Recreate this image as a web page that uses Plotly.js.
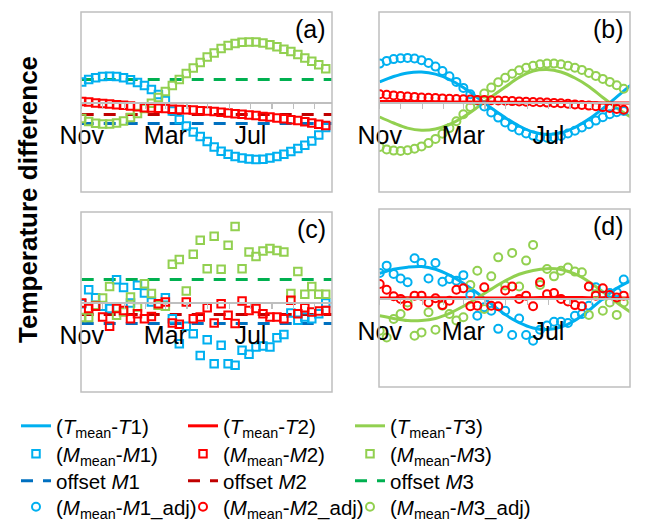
<!DOCTYPE html>
<html><head><meta charset="utf-8">
<script src="https://cdn.plot.ly/plotly-3.0.1.min.js"></script>
<style>html,body{margin:0;padding:0;background:#fff}#chart{width:649px;height:522px}</style>
</head><body><div id="chart"></div>
<script>
// x positions: day of season (from 1 Nov), one point per 10-day period
const days = [0,10,20,30,40,50,60,70,80,90,100,110,120,130,140,150,160,170,180,190,200,210,220,230,240,250,260,270,280,290,300,310,320,330,340,350];
const lineDays = [0,20,40,60,80,100,120,140,160,180,200,220,240,260,280,300,320,340,360];
const tickDays = [0,120,242];
const tickLabels = ['Nov','Mar','Jul'];
const monthDays = [30,61,92,151,181,212,273,304,334];

// panel (a): M_mean - Mi
const a_M1 = [0.67,0.75,0.81,0.85,0.86,0.85,0.81,0.74,0.65,0.55,0.42,0.25,0.05,-0.30,-0.58,-0.80,-1.00,-1.15,-1.32,-1.50,-1.64,-1.74,-1.82,-1.87,-1.90,-1.92,-1.91,-1.87,-1.82,-1.74,-1.65,-1.55,-1.44,-1.30,-1.10,-0.85];
const a_M2 = [0.02,0.00,-0.03,-0.05,-0.07,-0.09,-0.11,-0.13,-0.16,-0.19,-0.20,-0.21,-0.22,-0.24,-0.25,-0.26,-0.27,-0.29,-0.30,-0.32,-0.34,-0.37,-0.39,-0.41,-0.43,-0.45,-0.48,-0.50,-0.53,-0.56,-0.59,-0.62,-0.66,-0.70,-0.74,-0.78];
const a_M3 = [-0.55,-0.65,-0.71,-0.73,-0.73,-0.70,-0.63,-0.52,-0.38,-0.22,-0.04,0.15,0.35,0.55,0.75,0.95,1.13,1.32,1.50,1.63,1.78,1.88,1.95,1.99,2.00,2.00,1.97,1.91,1.84,1.76,1.68,1.58,1.47,1.36,1.24,1.11];
// offsets
const offM1 = -0.72, offM2 = -0.42, offM3 = 0.75;

// panel (b): T_mean - Ti and M_mean - Mi_adj
const b_T1 = [0.67,0.85,0.97,1.00,0.93,0.75,0.48,0.15,-0.20,-0.52,-0.80,-1.00,-1.08,-1.03,-0.85,-0.57,-0.22,0.17,0.56];
const b_T2 = [0.02,0.02,0.01,0.01,0.01,0.00,0.00,0.00,0.00,-0.01,-0.01,-0.01,-0.01,-0.02,-0.02,-0.02,-0.03,-0.03,-0.03];
const b_T3 = [-0.50,-0.70,-0.87,-0.94,-0.90,-0.75,-0.50,-0.18,0.17,0.50,0.82,1.03,1.08,1.00,0.80,0.52,0.15,-0.20,-0.50];
const b_M1adj = [1.28,1.37,1.43,1.46,1.47,1.45,1.39,1.30,1.18,1.03,0.86,0.67,0.47,0.26,0.05,-0.15,-0.35,-0.52,-0.68,-0.83,-0.95,-1.05,-1.12,-1.17,-1.19,-1.18,-1.13,-1.05,-0.96,-0.85,-0.74,-0.62,-0.51,-0.41,-0.34,-0.30];
const b_M2adj = [0.26,0.24,0.22,0.20,0.18,0.17,0.15,0.14,0.13,0.12,0.11,0.10,0.09,0.08,0.07,0.07,0.06,0.05,0.04,0.03,0.02,0.01,0.00,-0.01,-0.02,-0.03,-0.04,-0.06,-0.08,-0.10,-0.12,-0.14,-0.17,-0.20,-0.23,-0.26];
const b_M3adj = [-1.50,-1.58,-1.62,-1.63,-1.61,-1.56,-1.48,-1.37,-1.23,-1.06,-0.87,-0.64,-0.41,-0.17,0.06,0.28,0.48,0.66,0.81,0.94,1.06,1.14,1.21,1.26,1.28,1.28,1.26,1.21,1.14,1.07,0.97,0.87,0.77,0.67,0.56,0.44];

// panel (c)
const c_M1 = [-0.06,0.41,0.14,-0.14,-0.22,0.74,0.48,-0.03,0.56,0.30,0.00,-0.11,0.14,-0.56,-1.39,-0.81,-1.06,-1.78,-1.26,-2.06,-1.44,-2.06,-2.11,-1.61,-1.74,-1.50,-1.47,-1.50,-1.19,-1.08,-0.37,-0.61,-0.50,-0.56,-0.39,-0.03];
const c_M2 = [-0.03,-0.22,-0.14,-0.50,-0.81,-0.22,-0.28,-0.56,-0.39,-0.56,-0.48,-0.06,0.00,-0.70,-0.74,0.00,-0.56,-0.50,-0.19,-0.70,-0.06,-0.44,-0.72,0.03,-0.28,-0.22,-0.39,-0.50,-0.50,-0.56,0.06,-0.39,-0.19,-0.33,-0.30,-0.28];
const c_M3 = [-0.52,-0.52,-0.11,0.13,0.52,-0.44,-0.33,0.17,-0.17,0.61,0.28,-0.11,-0.14,1.26,1.42,0.37,1.59,2.06,1.11,2.19,1.09,1.89,2.52,1.11,1.67,1.52,1.70,1.78,1.72,1.67,0.28,1.02,0.26,0.52,0.26,0.26];

// panel (d)
const d_T1 = [0.83,0.97,1.04,1.06,0.97,0.77,0.50,0.17,-0.20,-0.56,-0.83,-1.01,-1.06,-0.98,-0.76,-0.42,-0.03,0.33,0.58];
const d_T2 = [0.00,0.00,0.01,0.01,0.01,0.01,0.01,0.00,0.00,0.00,0.01,0.01,0.02,0.02,0.02,0.01,0.01,0.00,0.00];
const d_T3 = [-0.60,-0.69,-0.76,-0.76,-0.69,-0.52,-0.28,0.00,0.30,0.58,0.80,0.93,0.99,0.96,0.81,0.55,0.21,-0.15,-0.48];
const d_M1adj = [0.84,1.09,0.81,0.66,0.53,1.34,1.18,0.66,1.18,0.55,0.64,0.58,0.77,0.10,-0.60,-0.31,-0.43,-1.04,-0.43,-1.25,-0.69,-1.25,-1.44,-1.07,-0.93,-0.80,-0.80,-0.84,-0.60,-0.54,-0.26,0.36,0.08,0.17,0.19,0.62];
const d_M2adj = [0.47,0.28,0.06,-0.03,-0.26,0.08,0.08,-0.15,-0.01,-0.24,-0.09,0.28,0.33,-0.28,-0.26,0.36,-0.26,-0.28,0.25,0.39,-0.03,0.08,-0.28,0.53,0.13,0.17,-0.03,-0.12,-0.24,-0.28,0.39,0.08,0.33,0.10,0.02,0.08];
const d_M3adj = [-1.10,-1.33,-0.71,-0.54,-0.15,-1.27,-1.16,-0.48,-1.07,-0.26,-0.54,-0.76,-0.65,0.44,0.92,-0.37,0.73,1.37,0.42,1.52,0.39,1.26,1.79,0.44,0.98,0.73,0.92,1.03,0.89,0.87,-0.57,0.13,-0.43,-0.15,-0.57,-0.15];

const names = {
  T1:'(<i>T</i><sub>mean</sub>-<i>T</i>1)', T2:'(<i>T</i><sub>mean</sub>-<i>T</i>2)', T3:'(<i>T</i><sub>mean</sub>-<i>T</i>3)',
  M1:'(<i>M</i><sub>mean</sub>-<i>M</i>1)', M2:'(<i>M</i><sub>mean</sub>-<i>M</i>2)', M3:'(<i>M</i><sub>mean</sub>-<i>M</i>3)',
  O1:'offset <i>M</i>1', O2:'offset <i>M</i>2', O3:'offset <i>M</i>3',
  A1:'(<i>M</i><sub>mean</sub>-<i>M</i>1_adj)', A2:'(<i>M</i><sub>mean</sub>-<i>M</i>2_adj)', A3:'(<i>M</i><sub>mean</sub>-<i>M</i>3_adj)'
};
// legend slot of each entry: [column, row]
const legendSlots = {T1:[0,0],T2:[1,0],T3:[2,0],M1:[0,1],M2:[1,1],M3:[2,1],O1:[0,2],O2:[1,2],O3:[2,2],A1:[0,3],A2:[1,3],A3:[2,3]};
const legendKeys = ['T1','T2','T3','M1','M2','M3','O1','O2','O3','A1','A2','A3'];
const legId = k => { const n = legendKeys.indexOf(k) + 1; return n === 1 ? 'legend' : 'legend' + n; };

const col = {l1:'#00B0F0', l2:'#FF0000', l3:'#92D050', o1:'#0070C0', o2:'#C00000', o3:'#00B050'};

function common(ax, key, show){
  return {xaxis:'x'+ax, yaxis:'y'+ax, name:names[key], legend:legId(key), showlegend:show};
}
function lineTr(y, c, ax, key, show){
  return Object.assign({x: lineDays, y: y, mode:'lines', line:{color:c, width:3, shape:'spline'}}, common(ax, key, show));
}
function sqTr(y, c, ax, key, show){
  return Object.assign({x: days, y: y, mode:'markers', marker:{symbol:'square-open', size:7.5, color:c, line:{width:2, color:c}}}, common(ax, key, show));
}
function circTr(y, c, ax, key, show){
  return Object.assign({x: days, y: y, mode:'markers', marker:{symbol:'circle-open', size:8, color:c, line:{width:2, color:c}}}, common(ax, key, show));
}
function offTr(v, c, ax, key, show){
  return Object.assign({x:[lineDays[0], lineDays[lineDays.length-1]], y:[v, v], mode:'lines',
    line:{color:c, width:3, dash:'12px,10px'}}, common(ax, key, show));
}

const traces = [
  // (a)
  offTr(offM1, col.o1, '', 'O1', true),
  offTr(offM2, col.o2, '', 'O2', true),
  offTr(offM3, col.o3, '', 'O3', true),
  sqTr(a_M1, col.l1, '', 'M1', true),
  sqTr(a_M3, col.l3, '', 'M3', true),
  sqTr(a_M2, col.l2, '', 'M2', true),
  // (b)
  lineTr(b_T1, col.l1, '2', 'T1', true),
  lineTr(b_T3, col.l3, '2', 'T3', true),
  lineTr(b_T2, col.l2, '2', 'T2', true),
  circTr(b_M1adj, col.l1, '2', 'A1', true),
  circTr(b_M3adj, col.l3, '2', 'A3', true),
  circTr(b_M2adj, col.l2, '2', 'A2', true),
  // (c)
  offTr(offM1, col.o1, '3', 'O1', false),
  offTr(offM2, col.o2, '3', 'O2', false),
  offTr(offM3, col.o3, '3', 'O3', false),
  sqTr(c_M1, col.l1, '3', 'M1', false),
  sqTr(c_M3, col.l3, '3', 'M3', false),
  sqTr(c_M2, col.l2, '3', 'M2', false),
  // (d)
  lineTr(d_T1, col.l1, '4', 'T1', false),
  lineTr(d_T3, col.l3, '4', 'T3', false),
  lineTr(d_T2, col.l2, '4', 'T2', false),
  circTr(d_M1adj, col.l1, '4', 'A1', false),
  circTr(d_M3adj, col.l3, '4', 'A3', false),
  circTr(d_M2adj, col.l2, '4', 'A2', false)
];

const W = 649, H = 522;
const px = v => v / W, py = v => 1 - v / H;
const frameCol = '#BFBFBF';
function xAx(x0, x1, y0, y1){
  return {domain:[px(x0), px(x1)], range:[-1, 359], anchor:'free', position:(py(y0)+py(y1))/2,
    showline:true, linecolor:frameCol, linewidth:1.5, ticks:'outside', ticklen:5, tickcolor:frameCol, tickwidth:1.2,
    tickmode:'array', tickvals:tickDays, ticktext:tickLabels, ticklabelstandoff:5,
    minor:{tickmode:'array', tickvals:monthDays, ticks:'outside', ticklen:5, tickcolor:frameCol, tickwidth:1.2, showgrid:false},
    showgrid:false, zeroline:false, tickfont:{size:25, color:'#000', family:'Liberation Sans, Arial, sans-serif'}, fixedrange:true};
}
function yAx(y0, y1, xa){
  return {domain:[py(y1), py(y0)], range:[-3, 3], anchor:xa, showline:false, showticklabels:false, ticks:'',
    showgrid:false, zeroline:false, fixedrange:true};
}
const panels = [
  {x0:81, x1:332, y0:12, y1:192, lab:'(a)', ax:''},
  {x0:379, x1:630, y0:12, y1:192, lab:'(b)', ax:'2'},
  {x0:81, x1:332, y0:212, y1:392, lab:'(c)', ax:'3'},
  {x0:379, x1:630, y0:209, y1:387, lab:'(d)', ax:'4'}
];

const layout = {
  width:W, height:H, margin:{l:0, r:0, t:0, b:0, autoexpand:false}, paper_bgcolor:'#fff', plot_bgcolor:'#fff',
  font:{family:'Liberation Sans, Arial, sans-serif', color:'#000'},
  showlegend:true, shapes:[], annotations:[]
};
// one small legend per entry, laid out in a 3 x 4 grid like the reference
const colX = [16, 183, 350], rowY = [426, 454, 481, 507];
legendKeys.forEach(k => {
  const s = legendSlots[k];
  layout[legId(k)] = {x:px(colX[s[0]]), y:py(rowY[s[1]]), xanchor:'left', yanchor:'middle',
    orientation:'v', font:{size:20.5, color:'#000'}, bgcolor:'rgba(0,0,0,0)', itemwidth:30, tracegroupgap:0};
});
panels.forEach(p => {
  layout['xaxis'+p.ax] = xAx(p.x0, p.x1, p.y0, p.y1);
  layout['yaxis'+p.ax] = yAx(p.y0, p.y1, 'x'+p.ax);
  layout.shapes.push({type:'rect', xref:'x'+p.ax+' domain', yref:'y'+p.ax+' domain', x0:0, x1:1, y0:0, y1:1,
    line:{color:frameCol, width:1.5}, fillcolor:'rgba(0,0,0,0)', layer:'above'});
  layout.annotations.push({text:p.lab, xref:'x'+p.ax+' domain', yref:'y'+p.ax+' domain', x:0.985, y:0.905,
    xanchor:'right', yanchor:'middle', showarrow:false, font:{size:25, color:'#000'}});
});
layout.annotations.push({text:'<b>Temperature difference</b>', xref:'paper', yref:'paper', x:px(28), y:py(200),
  xanchor:'center', yanchor:'middle', textangle:-90, showarrow:false, font:{size:26, color:'#000'}});

Plotly.newPlot('chart', traces, layout, {displayModeBar:false, staticPlot:true});
</script>
</body></html>
